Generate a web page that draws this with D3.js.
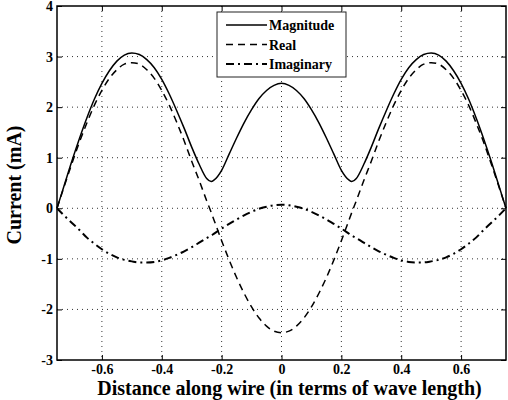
<!DOCTYPE html>
<html>
<head>
<meta charset="utf-8">
<script src="https://cdn.jsdelivr.net/npm/d3@7"></script>
<style>
  body { margin: 0; background: #fff; }
  text { font-family: "Liberation Serif", "Times New Roman", serif; font-weight: bold; fill: #000; }
</style>
</head>
<body>
<div id="chart"></div>
<script>
// distance along wire (wavelengths)
const positions = [-0.75, -0.725, -0.7, -0.675, -0.65, -0.625, -0.6, -0.575, -0.55, -0.525,
  -0.5, -0.475, -0.45, -0.425, -0.4, -0.375, -0.35, -0.325, -0.3, -0.275,
  -0.25, -0.235, -0.225, -0.2, -0.175, -0.15, -0.125, -0.1, -0.075, -0.05, -0.025,
  0,
  0.025, 0.05, 0.075, 0.1, 0.125, 0.15, 0.175, 0.2, 0.225, 0.235, 0.25,
  0.275, 0.3, 0.325, 0.35, 0.375, 0.4, 0.425, 0.45, 0.475, 0.5,
  0.525, 0.55, 0.575, 0.6, 0.625, 0.65, 0.675, 0.7, 0.725, 0.75];

const magnitude = [0, 0.47, 0.94, 1.38, 1.79, 2.16, 2.47, 2.72, 2.91, 3.03,
  3.07, 3.04, 2.94, 2.78, 2.55, 2.26, 1.93, 1.58, 1.21, 0.87,
  0.59, 0.53, 0.56, 0.75, 1.07, 1.39, 1.69, 1.95, 2.17, 2.33, 2.43,
  2.47,
  2.43, 2.33, 2.17, 1.95, 1.69, 1.39, 1.07, 0.75, 0.56, 0.53, 0.59,
  0.87, 1.21, 1.58, 1.93, 2.26, 2.55, 2.78, 2.94, 3.04, 3.07,
  3.03, 2.91, 2.72, 2.47, 2.16, 1.79, 1.38, 0.94, 0.47, 0];

const realPart = [0, 0.45, 0.89, 1.31, 1.69, 2.04, 2.33, 2.57, 2.74, 2.85,
  2.88, 2.85, 2.74, 2.57, 2.33, 2.04, 1.70, 1.33, 0.93, 0.55,
  0.15, -0.08, -0.24, -0.64, -1.02, -1.37, -1.68, -1.95, -2.17, -2.33, -2.43,
  -2.46,
  -2.43, -2.33, -2.17, -1.95, -1.68, -1.37, -1.02, -0.64, -0.24, -0.08, 0.15,
  0.55, 0.93, 1.33, 1.70, 2.04, 2.33, 2.57, 2.74, 2.85, 2.88,
  2.85, 2.74, 2.57, 2.33, 2.04, 1.69, 1.31, 0.89, 0.45, 0];

const imagPart = [0, -0.15, -0.29, -0.43, -0.58, -0.70, -0.81, -0.90, -0.97, -1.02,
  -1.05, -1.07, -1.07, -1.06, -1.03, -0.98, -0.92, -0.85, -0.77, -0.68,
  -0.59, -0.54, -0.50, -0.40, -0.31, -0.22, -0.14, -0.07, -0.01, 0.03, 0.06,
  0.07,
  0.06, 0.03, -0.01, -0.07, -0.14, -0.22, -0.31, -0.40, -0.50, -0.54, -0.59,
  -0.68, -0.77, -0.85, -0.92, -0.98, -1.03, -1.06, -1.07, -1.07, -1.05,
  -1.02, -0.97, -0.90, -0.81, -0.70, -0.58, -0.43, -0.29, -0.15, 0];

const xTicks = [-0.6, -0.4, -0.2, 0, 0.2, 0.4, 0.6];
const yTicks = [-3, -2, -1, 0, 1, 2, 3, 4];
const legendNames = ["Magnitude", "Real", "Imaginary"];

const W = 508, H = 400;
const serif = "'Liberation Serif', 'Times New Roman', serif";
const margin = {top: 6, right: 2, bottom: 40, left: 57};
const width = W - margin.left - margin.right,
      height = H - margin.top - margin.bottom;

const svg = d3.select("#chart").append("svg")
  .attr("width", W).attr("height", H);

const g = svg.append("g").attr("transform", `translate(${margin.left},${margin.top})`);

const x = d3.scaleLinear().domain([-0.75, 0.75]).range([0, width]);
const y = d3.scaleLinear().domain([-3, 4]).range([height, 0]);

// dotted grid
g.selectAll(".vgrid").data(xTicks).enter().append("line")
  .attr("x1", d => x(d)).attr("x2", d => x(d))
  .attr("y1", 0).attr("y2", height)
  .attr("stroke", "#333").attr("stroke-width", 1).attr("stroke-dasharray", "1,4");
g.selectAll(".hgrid").data(yTicks.slice(1, -1)).enter().append("line")
  .attr("x1", 0).attr("x2", width)
  .attr("y1", d => y(d)).attr("y2", d => y(d))
  .attr("stroke", "#333").attr("stroke-width", 1).attr("stroke-dasharray", "1,4");

// axes with inward ticks
const fmt = d => d === 0 ? "0" : d3.format(".1f")(d).replace("−", "-");
g.append("g").attr("transform", `translate(0,${height})`)
  .call(d3.axisBottom(x).tickValues(xTicks).tickSize(-5).tickPadding(4).tickFormat(fmt));
g.append("g")
  .call(d3.axisTop(x).tickValues(xTicks).tickSize(-5).tickFormat(""));
g.append("g")
  .call(d3.axisLeft(y).tickValues(yTicks).tickSize(-5).tickPadding(4).tickFormat(d => String(d)));
g.append("g").attr("transform", `translate(${width},0)`)
  .call(d3.axisRight(y).tickValues(yTicks).tickSize(-5).tickFormat(""));

g.selectAll(".domain").remove();
g.selectAll(".tick line").attr("stroke", "#000").attr("stroke-width", 1);
g.selectAll(".tick text")
  .attr("font-family", serif).attr("font-weight", "bold").attr("font-size", 14)
  .style("font-size", "14px").style("font-family", serif).style("font-weight", "bold");

g.append("rect").attr("x", 0).attr("y", 0).attr("width", width).attr("height", height)
  .attr("fill", "none").attr("stroke", "#000").attr("stroke-width", 1.5);

// curves
const series = [
  {vals: magnitude, dash: null, w: 1.5},
  {vals: realPart, dash: "7,5", w: 1.5},
  {vals: imagPart, dash: "8,4,2,4", w: 2}
];
const line = d3.line().curve(d3.curveMonotoneX);
series.forEach(s => {
  g.append("path")
    .datum(positions.map((p, i) => [x(p), y(s.vals[i])]))
    .attr("fill", "none")
    .attr("stroke", "#000")
    .attr("stroke-width", s.w)
    .attr("stroke-dasharray", s.dash)
    .attr("d", line);
});

// legend
const lg = svg.append("g").attr("transform", "translate(217,12)");
lg.append("rect").attr("width", 129).attr("height", 65)
  .attr("fill", "#fff").attr("stroke", "#222").attr("stroke-width", 1);
legendNames.forEach((name, i) => {
  const ly = 13 + i * 19.5;
  lg.append("line").attr("x1", 9).attr("x2", 50).attr("y1", ly).attr("y2", ly)
    .attr("stroke", "#000").attr("stroke-width", series[i].w)
    .attr("stroke-dasharray", series[i].dash);
  lg.append("text").attr("x", 52).attr("y", ly + 5)
    .style("font-size", "14px").text(name);
});

// axis titles
svg.append("text")
  .attr("x", margin.left + width / 2 + 8).attr("y", 395)
  .attr("text-anchor", "middle").style("font-size", "20px")
  .text("Distance along wire (in terms of wave length)");
svg.append("text")
  .attr("transform", `translate(21,${margin.top + height / 2 + 2}) rotate(-90)`)
  .attr("text-anchor", "middle").style("font-size", "20px")
  .text("Current (mA)");
</script>
</body>
</html>
